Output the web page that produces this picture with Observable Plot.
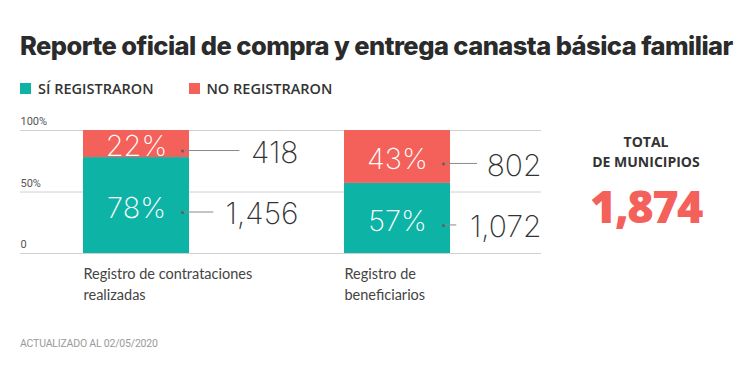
<!DOCTYPE html>
<html><head><meta charset="utf-8">
<script src="https://cdn.jsdelivr.net/npm/d3@7"></script>
<script src="https://cdn.jsdelivr.net/npm/@observablehq/plot@0.6"></script>
<style>
html,body{margin:0;padding:0;background:#fff;}
body{width:748px;height:371px;position:relative;overflow:hidden;font-family:"Open Sans",sans-serif;}
#title{position:absolute;left:20px;top:29px;font-family:Inter,sans-serif;font-weight:800;font-size:25.5px;letter-spacing:-0.55px;color:#2b2b2b;white-space:nowrap;line-height:34px;}
#legend{position:absolute;left:20px;top:78px;height:20px;display:flex;align-items:center;font-family:"Open Sans",sans-serif;font-weight:600;font-size:14.5px;color:#333;}
#legend .item{display:flex;align-items:center;margin-right:35px;}
#legend .sw{width:11px;height:11px;margin-right:7px;}
#chart{position:absolute;left:0;top:100px;}
#total{position:absolute;left:560px;top:132px;width:172px;text-align:center;}
#total .lbl{font-family:"Open Sans",sans-serif;font-weight:700;font-size:14px;line-height:20px;color:#333;}
#total .val{font-family:"Open Sans",sans-serif;font-weight:800;font-size:45px;line-height:56px;margin-top:6px;letter-spacing:-1.5px;}
#footer{position:absolute;left:20px;top:337px;font-family:Roboto,sans-serif;font-size:10.5px;color:#9a9a9a;letter-spacing:-0.2px;}
</style></head>
<body>
<div id="title"></div>
<div id="legend"></div>
<div id="chart"></div>
<div id="total"></div>
<div id="footer"></div>
<script>
const titleText = "Reporte oficial de compra y entrega canasta básica familiar";
const categories = ["Registro de contrataciones realizadas", "Registro de beneficiarios"];
const categoryLabels = ["Registro de contrataciones\nrealizadas", "Registro de\nbeneficiarios"];
const series = ["SÍ REGISTRARON", "NO REGISTRARON"];
const siPct = [78, 57];
const noPct = [22, 43];
const siCount = [1456, 1072];
const noCount = [418, 802];
const yTicks = [0, 50, 100];
const yTickLabels = ["0", "50%", "100%"];
const colors = ["#0db4a6", "#f4605a"];
const totalLabel = ["TOTAL", "DE MUNICIPIOS"];
const updated = "ACTUALIZADO AL 02/05/2020";

const fmt = d3.format(",");
const numFont = "Inter, sans-serif";

const rows = [];
categories.forEach((cat, i) => {
  rows.push({cat, ci: i, series: series[0], pct: siPct[i], count: siCount[i], y1: 0, y2: siPct[i]});
  rows.push({cat, ci: i, series: series[1], pct: noPct[i], count: noCount[i], y1: siPct[i], y2: siPct[i] + noPct[i]});
});
const mid = d => (d.y1 + d.y2) / 2;

document.getElementById("title").textContent = titleText;
const legend = d3.select("#legend");
series.forEach((s, i) => {
  const it = legend.append("div").attr("class", "item");
  it.append("div").attr("class", "sw").style("background", colors[i]);
  it.append("span").text(s);
});
const tot = d3.select("#total");
totalLabel.forEach(t => tot.append("div").attr("class", "lbl").text(t));
tot.append("div").attr("class", "val").style("color", colors[1]).text(fmt(siCount[0] + noCount[0]));
document.getElementById("footer").textContent = updated;

const countDx = [162, 144];
const dotDx = 46;
const dotDy = 7;

function estWidth(str, size) {
  let w = 0;
  for (const c of str) w += c === "," ? 0.27 * size : (c === "1" ? 0.42 * size : 0.6 * size);
  return w;
}

function connectors(index, scales) {
  const g = d3.create("svg:g");
  const bw = scales.x.bandwidth ? scales.x.bandwidth() : 0;
  rows.forEach(d => {
    const x0 = scales.x(d.cat) + bw / 2 + dotDx;
    const right = scales.x(d.cat) + bw / 2 + countDx[d.ci];
    const x1 = right - estWidth(fmt(d.count), 30) - 10;
    const y = scales.y(mid(d)) + dotDy;
    g.append("line").attr("x1", x0).attr("x2", x1).attr("y1", y).attr("y2", y)
      .attr("stroke", "#8a8a8a").attr("stroke-width", 1);
  });
  return g.node();
}

const plot = Plot.plot({
  width: 748,
  height: 210,
  marginTop: 30,
  marginBottom: 57,
  marginLeft: 20,
  marginRight: 207,
  x: {type: "band", domain: categories, range: [83, 450], paddingInner: 0.594, paddingOuter: 0, axis: null},
  y: {domain: [0, 100], axis: null},
  color: {domain: series, range: colors},
  style: {fontFamily: "Roboto, sans-serif", background: "transparent"},
  marks: [
    Plot.ruleY(yTicks, {y: d => d, stroke: "#d0d0d0", strokeWidth: 1}),
    Plot.text(yTicks, {y: d => d, text: (d, i) => yTickLabels[i], frameAnchor: "left", textAnchor: "start", dy: -9, fontSize: 11, fill: "#555"}),
    Plot.barY(rows, {x: "cat", y1: "y1", y2: "y2", fill: "series"}),
    Plot.text(rows, {x: "cat", y: mid, text: d => d.pct + "%", fill: "white", fontSize: 29, fontWeight: 200, fontFamily: numFont, dy: 3}),
    connectors,
    Plot.dot(rows, {x: "cat", y: mid, dx: dotDx, dy: dotDy, r: 1.5, fill: "#555", fillOpacity: 0.8}),
    ...categories.map((c, i) => Plot.text(rows.filter(d => d.ci === i), {x: "cat", y: mid, text: d => fmt(d.count), dx: countDx[i], dy: dotDy + 2, textAnchor: "end", fontSize: 30, fontWeight: 200, fontFamily: numFont, fill: "#333"})),
    Plot.text(categories, {x: d => d, y: () => 0, text: (d, i) => categoryLabels[i], dx: -53, dy: 11, textAnchor: "start", lineAnchor: "top", lineHeight: 1.42, fontSize: 14.5, fontFamily: "Lato, sans-serif", fill: "#444"})
  ]
});
document.getElementById("chart").appendChild(plot);
</script>
</body></html>
